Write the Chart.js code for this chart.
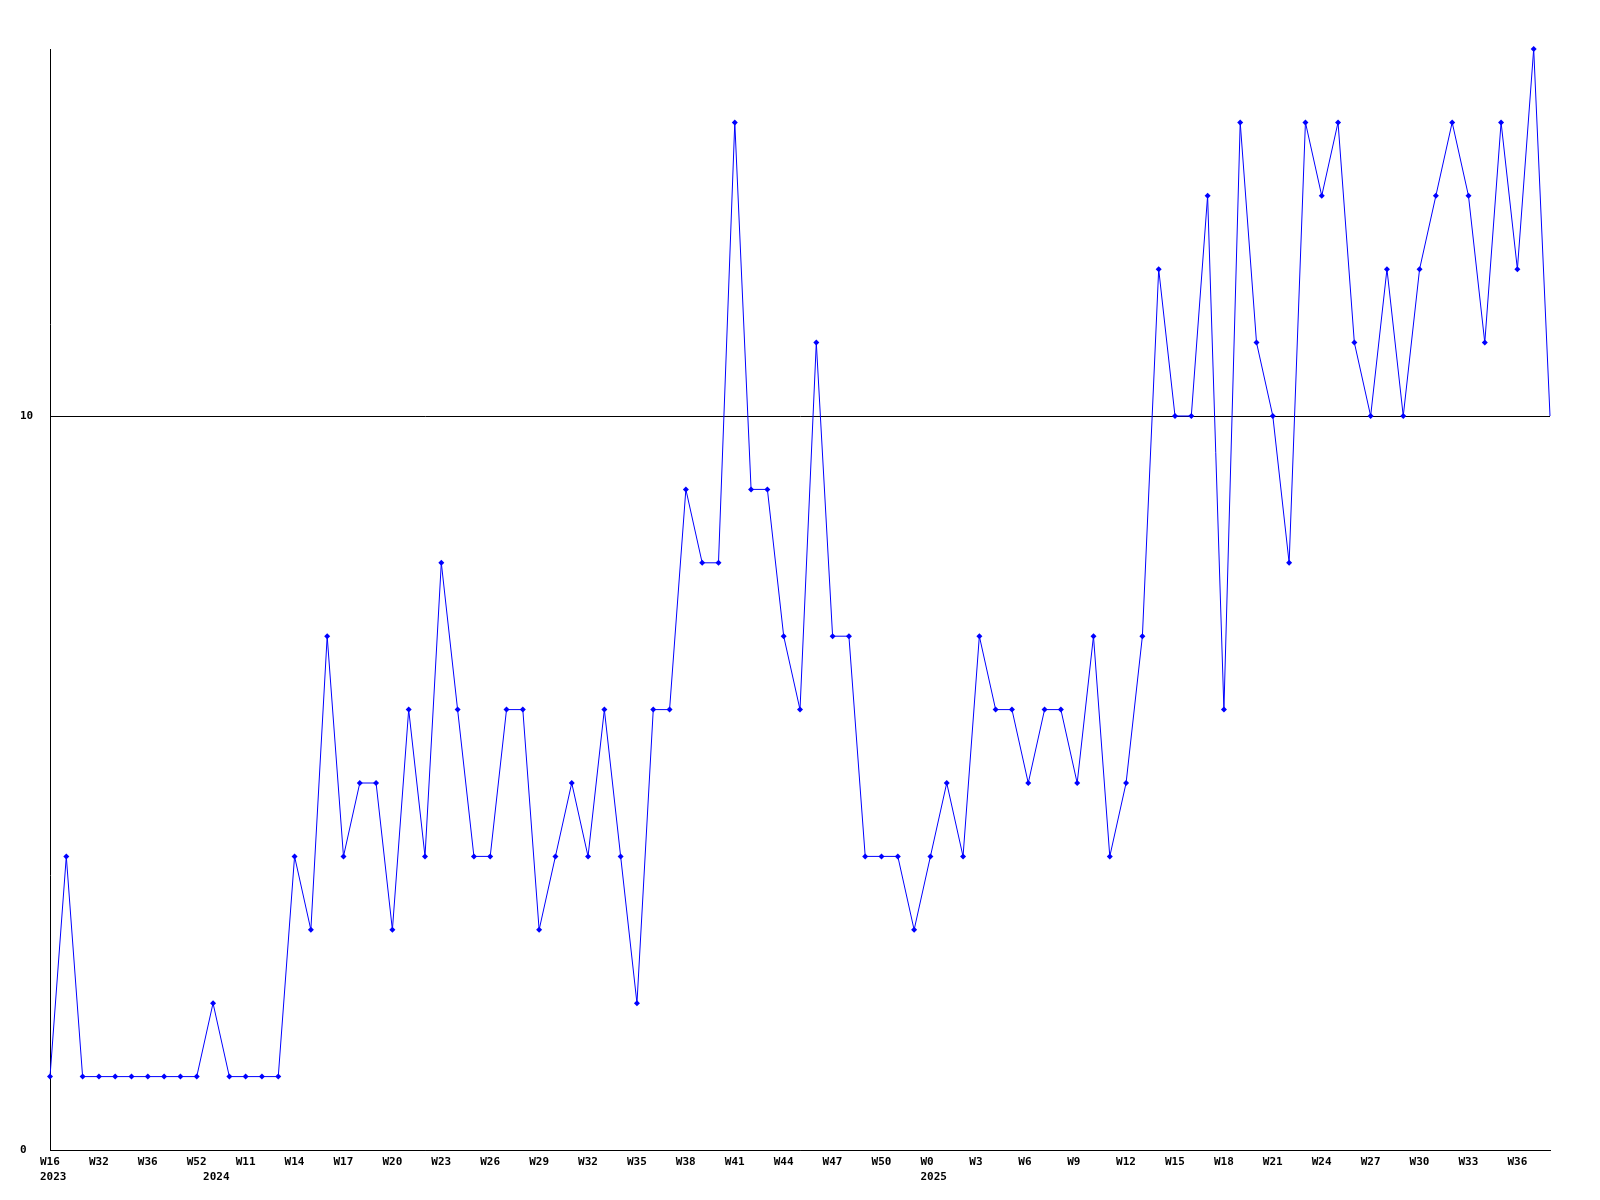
<!DOCTYPE html>
<html>
<head>
<meta charset="utf-8">
<title>Weekly count</title>
<script src="https://cdn.jsdelivr.net/npm/chart.js@4/dist/chart.umd.min.js"></script>
<style>
  html, body { margin: 0; padding: 0; background: #fff; }
  #chart { display: block; }
</style>
</head>
<body>
<canvas id="chart" width="1600" height="1200"></canvas>
<script>
// week of each point (only every 3rd one is printed on the axis)
var weeks = ['W16','W30','W31','W32','W33','W35','W36','W40','W48','W52',
             'W1','W6','W11','W12','W13','W14','W15','W16','W17','W18',
             'W19','W20','W21','W22','W23','W24','W25','W26','W27','W28',
             'W29','W30','W31','W32','W33','W34','W35','W36','W37','W38',
             'W39','W40','W41','W42','W43','W44','W45','W46','W47','W48',
             'W49','W50','W51','W52','W0','W1','W2','W3','W4','W5',
             'W6','W7','W8','W9','W10','W11','W12','W13','W14','W15',
             'W16','W17','W18','W19','W20','W21','W22','W23','W24','W25',
             'W26','W27','W28','W29','W30','W31','W32','W33','W34','W35',
             'W36','W37','W38'];

// first point of each year
var yearStart = [0, 10, 54];
var yearNames = ['2023', '2024', '2025'];

var counts = [1,4,1,1,1,1,1,1,1,1,
              2,1,1,1,1,4,3,7,4,5,
              5,3,6,4,8,6,4,4,6,6,
              3,4,5,4,6,4,2,6,6,9,
              8,8,14,9,9,7,6,11,7,7,
              4,4,4,3,4,5,4,7,6,6,
              5,6,6,5,7,4,5,7,12,10,
              10,13,6,14,11,10,8,14,13,14,
              11,10,12,10,12,13,14,13,11,14,
              12,15,10];

var yTicks = [0, 10];
var yMax = 15;
var labelEvery = 3;

var axisFont = { family: 'DejaVu Sans Mono', size: 11, weight: 'bold', lineHeight: 1.4 };

/*--------------------------------
    Chart
----------------------------------*/
var chart = new Chart(document.getElementById('chart').getContext('2d'), {
    type: 'line',
    data: {
        labels: weeks,
        datasets: [{
            data: counts,
            borderColor: '#0000ff',
            backgroundColor: '#0000ff',
            borderWidth: 1,
            tension: 0,
            fill: false,
            clip: false,
            pointStyle: 'rectRot',
            pointRadius: counts.map(function (v, i) { return i === counts.length - 1 ? 0 : 3; }),
            pointBorderWidth: 0
        }]
    },
    options: {
        responsive: false,
        devicePixelRatio: 1,
        animation: false,
        layout: { padding: { left: 20, right: 50, top: 49, bottom: 0 } },
        plugins: {
            legend: { display: false },
            tooltip: { enabled: false }
        },
        scales: {
            x: {
                grid: { display: false, drawTicks: false },
                border: { display: true, color: '#000', width: 1 },
                ticks: {
                    autoSkip: false,
                    maxRotation: 0,
                    minRotation: 0,
                    align: 'start',
                    labelOffset: -10,
                    padding: 4,
                    color: '#000',
                    font: axisFont,
                    callback: function (value, index) {
                        var week = index % labelEvery === 0 ? weeks[index] : '';
                        var y = yearStart.indexOf(index);
                        return [week, y >= 0 ? yearNames[y] : ''];
                    }
                },
                afterFit: function (scale) { scale.height = 50; }
            },
            y: {
                min: 0,
                max: yMax,
                grid: { color: '#000', lineWidth: 1, drawTicks: false },
                border: { display: true, color: '#000', width: 1 },
                ticks: {
                    color: '#000',
                    font: axisFont,
                    crossAlign: 'far',
                    padding: 0
                },
                afterBuildTicks: function (scale) {
                    scale.ticks = yTicks.map(function (v) { return { value: v }; });
                },
                afterFit: function (scale) { scale.width = 30; }
            }
        }
    }
});
</script>
</body>
</html>
